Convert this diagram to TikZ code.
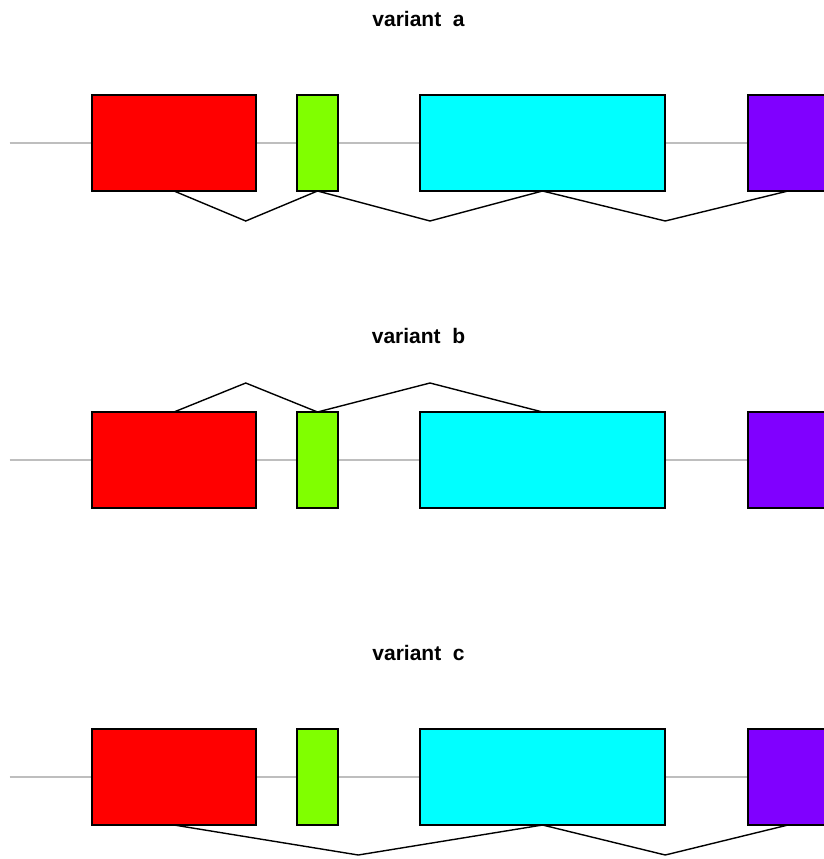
\documentclass[tikz,border=0pt]{standalone}
\usepackage{fontspec}
\setmainfont{Liberation Sans}
\usetikzlibrary{calc,backgrounds}
\definecolor{exred}{HTML}{FF0000}
\definecolor{exgreen}{HTML}{80FF00}
\definecolor{excyan}{HTML}{00FFFF}
\definecolor{expurple}{HTML}{8000FF}
\definecolor{bbgray}{HTML}{BEBEBE}
\begin{document}
\begin{tikzpicture}[x=1pt,y=-1pt,
  exon/.style={draw=black,line width=1.3pt,rectangle,inner sep=0pt,outer sep=0pt,minimum height=96pt},
  backbone/.style={draw=bbgray,line width=1.5pt},
  junction/.style={draw=black,line width=1.4pt,line join=miter},
  title/.style={font=\bfseries\fontsize{21}{24}\selectfont,anchor=base}]
\useasboundingbox (0,0) rectangle (824,859);
\clip (0,0) rectangle (824,859);
\foreach \p/\oy in {a/0,b/317,c/634}{
  \begin{scope}[yshift=-\oy pt]
  \node[title] (t\p) at (418.5,26.5) {variant\ \ \p};
  \node[exon,fill=exred,minimum width=164pt] (r\p) at (174,143) {};
  \node[exon,fill=exgreen,minimum width=41pt] (g\p) at (317.5,143) {};
  \node[exon,fill=excyan,minimum width=245pt] (c\p) at (542.5,143) {};
  \node[exon,fill=expurple,minimum width=80pt] (p\p) at (788,143) {};
  \coordinate (s\p) at (9.5,143);
  \begin{scope}[on background layer]
  \draw[backbone] (s\p) -- (p\p.center);
  \end{scope}
  \end{scope}
}
% variant a: junctions below
\draw[junction] (ra.south) -- ($(ra.south)!0.5!(ga.south)+(0,30)$) -- (ga.south);
\draw[junction] (ga.south) -- ($(ga.south)!0.5!(ca.south)+(0,30)$) -- (ca.south);
\draw[junction] (ca.south) -- ($(ca.south)!0.5!(pa.south)+(0,30)$) -- (pa.south);
% variant b: junctions above
\draw[junction] (rb.north) -- ($(rb.north)!0.5!(gb.north)+(0,-29)$) -- (gb.north);
\draw[junction] (gb.north) -- ($(gb.north)!0.5!(cb.north)+(0,-29)$) -- (cb.north);
% variant c: junctions below
\draw[junction] (rc.south) -- ($(rc.south)!0.5!(cc.south)+(0,30)$) -- (cc.south);
\draw[junction] (cc.south) -- ($(cc.south)!0.5!(pc.south)+(0,30)$) -- (pc.south);
\end{tikzpicture}
\end{document}
